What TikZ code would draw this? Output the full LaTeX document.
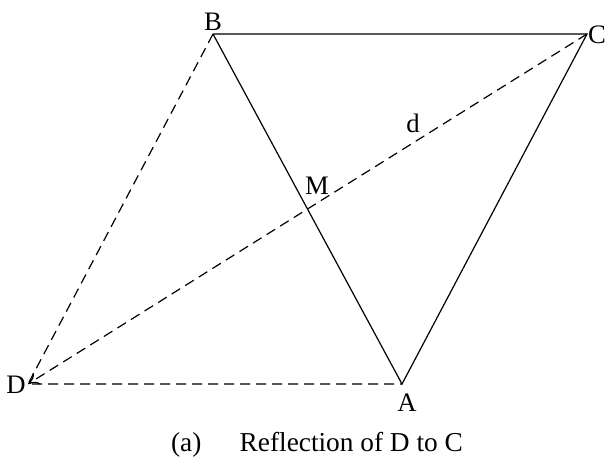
\documentclass[tikz,border=0pt]{standalone}
\usepackage{fontspec}
\setmainfont{Liberation Serif}
\usetikzlibrary{arrows.meta,intersections}
\begin{document}
\begin{tikzpicture}[x=0.75pt,y=-0.75pt,
  edge/.style={line width=0.9pt},
  dedge/.style={line width=0.9pt,dash pattern=on 7.5pt off 4.5pt},
  lbl/.style={font=\fontsize{20pt}{22pt}\selectfont,inner sep=0pt}]
\useasboundingbox (0,0) rectangle (606,462);
\coordinate (B) at (213,34);
\coordinate (C) at (587,34);
\coordinate (A) at (402,384);
\coordinate (D) at (28,384);
\draw[edge] (B) -- (C) -- (A) -- (B);
\draw[dedge] (B) -- (D) -- (A);
\draw[dedge,-{To[length=8pt,width=10pt]}] (C) -- (D);
\node[lbl] (lB) at (213,22) {B};
\node[lbl] (lC) at (597,35) {C};
\node[lbl] (lD) at (16,385) {D};
\node[lbl] (lA) at (407,403) {A};
\node[lbl] (lM) at (317,186) {M};
\node[lbl] (ld) at (413,123) {d};
\node[lbl,font=\fontsize{20.5pt}{22pt}\selectfont] (cap) at (317,445) {(a)\hspace{1.4em}Reflection of D to C};
\end{tikzpicture}
\end{document}
